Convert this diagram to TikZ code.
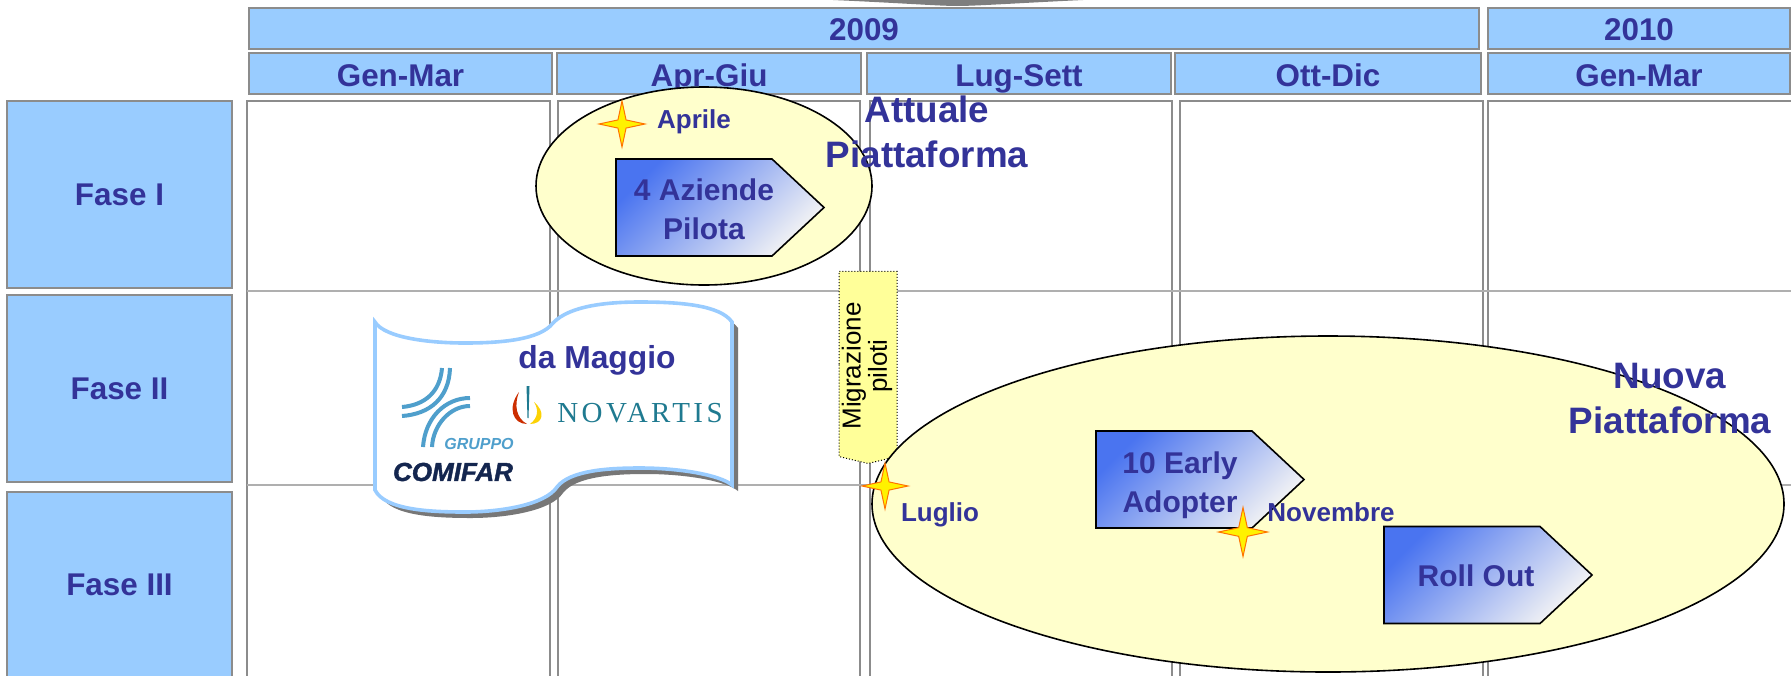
\documentclass[tikz,border=0pt]{standalone}
\usepackage{fontspec}
\setmainfont{Liberation Sans}
\newfontfamily\novartisfont[LetterSpace=12]{Liberation Serif}
\newfontfamily\comifarfont[UprightFont=* Bold Italic,FakeBold=1.5]{Liberation Sans}
\usepackage{tikz}
\usetikzlibrary{shapes,calc,positioning,arrows}
\definecolor{testo}{HTML}{333399}
\definecolor{celeste}{HTML}{99CCFF}
\definecolor{bordo}{HTML}{8C8C8C}
\definecolor{crema}{HTML}{FFFFCC}
\definecolor{giallino}{HTML}{FFFF99}
\definecolor{logoblu}{HTML}{4F9FCC}
\definecolor{logonavy}{HTML}{14264F}
\definecolor{logoteal}{HTML}{1F7A90}
\definecolor{frecciablu}{HTML}{4A74F0}
\definecolor{frecciachiaro}{HTML}{F4F4F4}

\begin{document}
\begin{tikzpicture}[x=0.5pt,y=-0.5pt,
    box/.style={draw=bordo,fill=celeste,line width=1pt,inner sep=0pt,text=testo,font=\bfseries\fontsize{15.7}{18}\selectfont},
    anno/.style={box,minimum height=20.5pt,text height=12pt,text depth=0pt},
    mese/.style={box,minimum height=20.5pt,text height=13pt,text depth=0pt},
    fase/.style={box,minimum width=112.5pt,minimum height=93.5pt},
    colonna/.style={draw=bordo,fill=white,line width=1pt,minimum height=294.5pt},
    riga/.style={draw=bordo!70,line width=0.8pt},
    nuvola/.style={ellipse,draw=black,fill=crema,line width=0.8pt,inner sep=0pt},
    freccia/.style={signal,signal to=east,signal pointer angle=86,draw=black,line width=0.8pt,
        left color=frecciablu,right color=frecciachiaro,shading angle=45,
        minimum width=104pt,minimum height=48.5pt,inner sep=0pt},
    stella/.style={star,star points=4,star point ratio=4,draw=orange!90!red,fill=yellow,line width=0.5pt,
        minimum size=23pt,inner sep=0pt},
    blu/.style={text=testo,font=\bfseries\fontsize{15}{19.5}\selectfont,align=center,inner sep=0pt},
    piccolo/.style={text=testo,font=\bfseries\fontsize{13}{15}\selectfont,inner sep=0pt},
    grande/.style={text=testo,font=\bfseries\fontsize{18.4}{22.5}\selectfont,align=center,inner sep=0pt},
]
    \useasboundingbox (0,0) rectangle (1791,675);
    \clip (0,0) rectangle (1791,675);
    % sagoma in alto
    \fill[bordo!90!black] (833,0) .. controls (900,3) and (940,6) .. (957,6) .. controls (975,6) and (1020,3) .. (1083,0) -- cycle;
    %
    \node[anno,minimum width=615pt] (anno1) at (864,28.5) {2009};
    \node[anno,minimum width=151pt,right of=anno1,node distance=387.5pt] (anno2) {2010};
    \node[mese,minimum width=151.5pt] (mese1) at (400.5,73.5) {Gen-Mar};
    \node[mese,minimum width=152pt,right of=mese1,node distance=154.25pt] (mese2) {Apr-Giu};
    \node[mese,minimum width=152pt,right of=mese2,node distance=155pt] (mese3) {Lug-Sett};
    \node[mese,minimum width=153pt,right of=mese3,node distance=154.5pt] (mese4) {Ott-Dic};
    \node[mese,minimum width=151pt,right of=mese4,node distance=155.5pt] (mese5) {Gen-Mar};
    %
    \node[fase] (fase1) at (119.5,194.5) {Fase I};
    \node[fase,below of=fase1,node distance=97pt] (fase2) {Fase II};
    \node[fase,below of=fase2,node distance=98.25pt] (fase3) {Fase III};
    %
    \node[colonna,minimum width=151.5pt] (col1) at (398.5,395.5) {};
    \node[colonna,minimum width=151pt,right of=col1,node distance=155.25pt] (col2) {};
    \node[colonna,minimum width=151pt,right of=col2,node distance=156pt] (col3) {};
    \node[colonna,minimum width=151.5pt,right of=col3,node distance=155.25pt] (col4) {};
    \node[colonna,minimum width=153.5pt,right of=col4,node distance=155pt] (col5) {};
    \coordinate (riga1) at (247,291);
    \coordinate (riga2) at (247,485);
    \draw[riga] (riga1) -- (riga1 -| col5.east);
    \draw[riga] (riga2) -- (riga2 -| col5.east);
    %
    \fill[bordo!85!black,shift={(6,6)}] (375,322) .. controls (385,338) and (430,343) .. (465,343) .. controls (500,343) and (540,340) .. (553,323) .. controls (570,305) and (610,302) .. (640,302) .. controls (680,302) and (720,305) .. (732,322) -- (732,485) .. controls (720,475) and (680,468) .. (640,468) .. controls (610,468) and (570,470) .. (557,487) .. controls (545,505) and (500,512) .. (465,512) .. controls (430,512) and (385,510) .. (375,490) -- cycle;
    \draw[celeste,fill=white,line width=1.8pt] (375,322) .. controls (385,338) and (430,343) .. (465,343) .. controls (500,343) and (540,340) .. (553,323) .. controls (570,305) and (610,302) .. (640,302) .. controls (680,302) and (720,305) .. (732,322) -- (732,485) .. controls (720,475) and (680,468) .. (640,468) .. controls (610,468) and (570,470) .. (557,487) .. controls (545,505) and (500,512) .. (465,512) .. controls (430,512) and (385,510) .. (375,490) -- cycle;
    \node[text=testo,font=\bfseries\fontsize{15.9}{18}\selectfont,inner sep=0pt] (maggio) at (597,360) {da Maggio};
    % logo comifar
    \draw[logoblu,line width=2pt] (402,407) .. controls (425,405) and (440,392) .. (442,368);
    \draw[logoblu,line width=2pt] (402,416) .. controls (430,414) and (449,398) .. (450,368);
    \draw[logoblu,line width=2pt] (470,398) .. controls (445,398) and (425,418) .. (423,447);
    \draw[logoblu,line width=2pt] (470,406) .. controls (450,406) and (433,425) .. (432,447);
    \node[text=logoblu,font=\bfseries\itshape\fontsize{8}{9}\selectfont,inner sep=0pt] (gruppo) at (479,444) {GRUPPO};
    \node[text=logonavy,font=\comifarfont\fontsize{13}{15}\selectfont,inner sep=0pt] (comifar) at (453,472) {COMIFAR};
    % logo novartis
    \fill[logoteal] (526.5,386) -- (529.5,386) -- (528.5,418) -- (527.5,418) -- cycle;
    \fill[red!55!orange!80!black] (519,392) .. controls (507,408) and (513,424) .. (527,424) .. controls (516,418) and (514,405) .. (519,392) -- cycle;
    \fill[yellow!70!orange] (534,402) .. controls (546,412) and (543,424) .. (530,424) .. controls (538,418) and (539,410) .. (534,402) -- cycle;
    \node[text=logoteal,font=\novartisfont\fontsize{14.5}{16}\selectfont,inner sep=0pt] (novartis) at (640,413) {NOVARTIS};
    %
    \node[signal,signal to=west,signal pointer angle=153,rotate=90,draw=black,densely dotted,fill=giallino,line width=0.5pt,minimum width=96pt,minimum height=29pt,inner sep=0pt] (migrazione) at (868,364) {};
    \node[rotate=90,align=center,inner sep=0pt,font=\fontsize{13}{11}\selectfont] (migrazioneTesto) at (867,366) {Migrazione\\piloti};
    %
    \node[nuvola,minimum width=168pt,minimum height=99pt] (attuale) at (704,186) {};
    \node[nuvola,minimum width=456pt,minimum height=168pt] (nuova) at (1328,504) {};
    \node[freccia] (pilota) at (694,207.5) {};
    \node[blu] (pilotaTesto) at (704,209) {4 Aziende\\Pilota};
    \node[freccia] (early) at (1174,479.5) {};
    \node[blu] (earlyTesto) at (1180,485) {10 Early\\Adopter};
    \node[freccia] (rollout) at (1462,575) {};
    \node[blu] (rolloutTesto) at (1476,576) {Roll Out};
    %
    \node[stella] (aprile) at (622,124) {};
    \node[piccolo] (aprileTesto) at (694,122) {Aprile};
    \node[stella] (luglio) at (885,486) {};
    \node[piccolo] (luglioTesto) at (940,515) {Luglio};
    \node[stella,minimum size=24.5pt] (novembre) at (1243,532) {};
    \node[piccolo] (novembreTesto) at (1331,512) {Novembre};
    %
    \node[grande] (attualeTesto) at (927,132) {Attuale\\Piattaforma};
    \node[grande] (nuovaTesto) at (1670,399) {Nuova\\Piattaforma};
\end{tikzpicture}
\end{document}
